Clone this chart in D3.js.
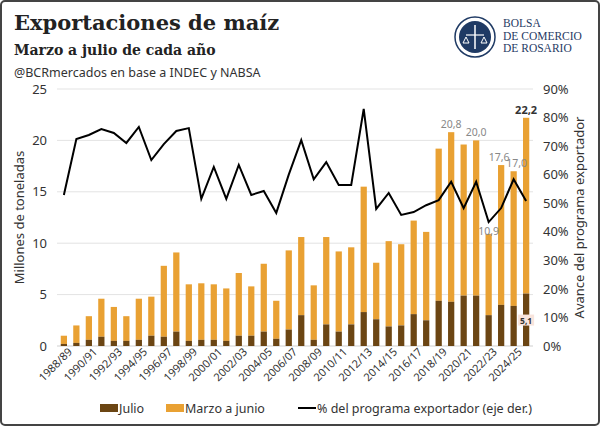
<!DOCTYPE html>
<html><head><meta charset="utf-8">
<script src="https://cdn.jsdelivr.net/npm/d3@7"></script>
<style>
body{margin:0;background:#fff;}
text{font-family:"Noto Sans",sans-serif;}
text.serif{font-family:"DejaVu Serif",serif;}
text.lserif{font-family:"Liberation Serif",serif;}
</style></head>
<body><svg id="c" width="600" height="426"></svg>
<script>
var seasons = [];
for (var y = 1988; y <= 2025; y++) seasons.push(y + "/" + String((y + 1) % 100).padStart(2, "0"));

var total = [1.0,2.0,2.9,4.6,3.8,2.9,4.6,4.8,7.8,9.1,6.0,6.1,6.0,5.6,7.1,5.8,8.0,4.4,9.3,10.6,
             5.9,10.6,9.2,9.6,15.5,8.1,10.2,9.9,12.2,11.1,19.2,20.8,19.6,20.0,10.9,17.6,17.0,22.2];
var julio = [0.2,0.3,0.6,0.9,0.5,0.5,0.6,1.0,0.9,1.4,0.5,0.6,0.6,0.5,1.0,1.0,1.4,0.7,1.6,3.0,
             0.6,2.1,1.4,2.1,3.3,2.6,1.9,2.0,3.1,2.5,4.4,4.3,4.9,4.9,3.0,4.0,3.9,5.1];
var pct = [52.9,72.5,73.9,76,74.6,71.1,76.7,65.1,70.7,75.3,76.3,51.5,62.7,51.5,63.4,52.9,54.3,46.6,60,72.1,
           58.4,64.4,56.4,56.4,83,48,53.6,45.9,46.9,49.3,51.1,57.5,48.3,57.5,43.4,48.3,58.4,50.8];
var labelled = {31:"20,8", 33:"20,0", 34:"10,9", 35:"17,6", 36:"17,0"};

var svg = d3.select("#c");
var dark = "#6b4513", orange = "#e9a133", navy = "#1f3a64";

svg.append("rect").attr("x",1).attr("y",1).attr("width",598).attr("height",424).attr("rx",4)
  .attr("fill","#fff").attr("stroke","#444").attr("stroke-width",2);

svg.append("text").attr("class","serif").attr("x",14).attr("y",30)
  .attr("font-weight","bold").attr("font-size",21).attr("fill","#222").text("Exportaciones de maíz");
svg.append("text").attr("class","serif").attr("x",14).attr("y",55)
  .attr("font-weight","bold").attr("font-size",14).attr("fill","#222").text("Marzo a julio de cada año");
svg.append("text").attr("x",14).attr("y",77).attr("font-size",12.5).attr("fill","#333")
  .text("@BCRmercados en base a INDEC y NABSA");

// logo
var lg = svg.append("g").attr("transform","translate(475,37)");
lg.append("circle").attr("r",20).attr("fill","none").attr("stroke",navy).attr("stroke-width",1.5);
lg.append("circle").attr("r",16).attr("fill",navy);
lg.append("line").attr("x1",-9).attr("x2",9).attr("y1",-2).attr("y2",-2).attr("stroke","#fff").attr("stroke-width",1.2);
lg.append("line").attr("x1",0).attr("x2",0).attr("y1",-12).attr("y2",12).attr("stroke","#fff").attr("stroke-width",1.5);
lg.append("path").attr("d","M-12,6 L-6,6 L-9,0 Z M6,6 L12,6 L9,0 Z").attr("fill","none").attr("stroke","#fff");
["BOLSA","DE COMERCIO","DE ROSARIO"].forEach(function(t,i){
  svg.append("text").attr("class","lserif").attr("x",503).attr("y",27+i*12.5)
    .attr("font-size",11.5).attr("fill",navy).text(t);
});

var m = {l:57, r:533, t:89, b:346};
var x = d3.scaleBand().domain(seasons).range([m.l, m.r]).paddingInner(0.5).paddingOuter(0.3);
var yL = d3.scaleLinear().domain([0,25]).range([m.b, m.t]);
var yR = d3.scaleLinear().domain([0,0.9]).range([m.b, m.t]);

svg.append("g").selectAll("line").data(yL.ticks(5)).join("line")
  .attr("x1",m.l).attr("x2",m.r).attr("y1",yL).attr("y2",yL).attr("stroke","#e3e3e3");

var ax = svg.append("g").attr("transform","translate("+(m.l-4)+",0)")
  .call(d3.axisLeft(yL).ticks(5).tickSize(0).tickPadding(6));
ax.select(".domain").remove();
ax.selectAll("text").attr("font-size",13).attr("fill","#333");
var axr = svg.append("g").attr("transform","translate("+(m.r+6)+",0)")
  .call(d3.axisRight(yR).ticks(9).tickFormat(d3.format(".0%")).tickSize(0).tickPadding(4));
axr.select(".domain").remove();
axr.selectAll("text").attr("font-size",13).attr("fill","#333");

var axb = svg.append("g").attr("transform","translate(0,"+(m.b+2)+")")
  .call(d3.axisBottom(x).tickValues(seasons.filter(function(d,i){return i%2==0;})).tickSize(0));
axb.select(".domain").remove();
axb.selectAll("text").attr("font-size",11).attr("fill","#333").attr("text-anchor","end")
  .attr("dx","0.3em").attr("dy","0.6em").attr("transform","rotate(-45)");
svg.append("line").attr("x1",m.l).attr("x2",m.r).attr("y1",m.b).attr("y2",m.b).attr("stroke","#ddd");

svg.append("g").selectAll("rect").data(seasons).join("rect")
  .attr("x",function(d){return x(d);}).attr("width",x.bandwidth())
  .attr("y",function(d,i){return yL(total[i]);})
  .attr("height",function(d,i){return yL(julio[i]) - yL(total[i]);}).attr("fill",orange);
svg.append("g").selectAll("rect").data(seasons).join("rect")
  .attr("x",function(d){return x(d);}).attr("width",x.bandwidth())
  .attr("y",function(d,i){return yL(julio[i]);})
  .attr("height",function(d,i){return m.b - yL(julio[i]);}).attr("fill",dark);

svg.append("path").datum(pct).attr("fill","none").attr("stroke","#000").attr("stroke-width",2)
  .attr("d", d3.line().x(function(d,i){return x(seasons[i]) + x.bandwidth()/2;})
    .y(function(d){return yR(d/100);}));

Object.keys(labelled).forEach(function(k){
  k = +k;
  var yy = k == 34 ? yR(pct[k]/100) + 13 : yL(total[k]) - 4;
  var dx = k == 35 ? -2 : (k == 36 ? 3 : 0);
  svg.append("text").attr("x",x(seasons[k]) + x.bandwidth()/2 + dx).attr("y",yy)
    .attr("text-anchor","middle").attr("font-size",10.5).attr("fill","#888").text(labelled[k]);
});
var li = seasons.length - 1, cx = x(seasons[li]) + x.bandwidth()/2;
svg.append("text").attr("x",cx).attr("y",yL(total[li]) - 4).attr("text-anchor","middle")
  .attr("font-size",11).attr("font-weight","bold").attr("fill","#333").text("22,2");
svg.append("rect").attr("x",cx-8).attr("y",yL(julio[li]) + 21).attr("width",16).attr("height",11)
  .attr("fill","#f8e4dc");
svg.append("text").attr("x",cx).attr("y",yL(julio[li]) + 30).attr("text-anchor","middle")
  .attr("font-size",8.5).attr("font-weight","bold").attr("fill","#333").text("5,1");

svg.append("text").attr("transform","translate(24,"+((m.t+m.b)/2)+") rotate(-90)")
  .attr("text-anchor","middle").attr("font-size",13).attr("fill","#333").text("Millones de toneladas");
svg.append("text").attr("transform","translate(584,"+((m.t+m.b)/2)+") rotate(-90)")
  .attr("text-anchor","middle").attr("font-size",13).attr("fill","#333").text("Avance del programa exportador");

var leg = svg.append("g").attr("transform","translate(100,409)");
leg.append("rect").attr("x",0).attr("y",-5).attr("width",18).attr("height",8).attr("fill",dark);
leg.append("text").attr("x",19).attr("y",3.5).attr("font-size",12.5).attr("fill","#333").text("Julio");
leg.append("rect").attr("x",66).attr("y",-5).attr("width",18).attr("height",8).attr("fill",orange);
leg.append("text").attr("x",85).attr("y",3.5).attr("font-size",12.5).attr("fill","#333").text("Marzo a junio");
leg.append("line").attr("x1",198).attr("x2",216).attr("y1",-1).attr("y2",-1).attr("stroke","#000").attr("stroke-width",2);
leg.append("text").attr("x",217).attr("y",3.5).attr("font-size",12.5).attr("fill","#333").text("% del programa exportador (eje der.)");
</script></body></html>
